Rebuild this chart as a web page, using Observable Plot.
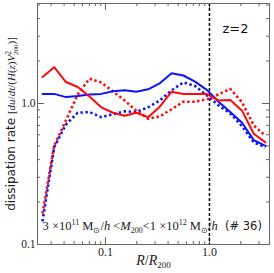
<!DOCTYPE html>
<html><head><meta charset="utf-8">
<script src="https://cdn.jsdelivr.net/npm/d3@7"></script>
<script src="https://cdn.jsdelivr.net/npm/@observablehq/plot@0.6"></script>
<style>body{margin:0;background:#fff}</style>
</head><body><div id="chart"></div>
<script>
// ---- data ----
const radius     = [0.0248,0.0321,0.0417,0.0540,0.0702,0.0910,0.118,0.153,0.198,0.257,0.333,0.432,0.561,0.727,0.944,1.223,1.585,2.057,2.667,3.455];
const redSolid   = [1.54,1.81,1.42,1.31,1.12,0.94,0.86,0.82,0.86,0.80,0.95,1.21,1.17,1.17,1.17,1.05,1.06,0.89,0.61,0.53];
const blueSolid  = [1.17,1.17,1.11,1.13,1.16,1.17,1.22,1.24,1.21,1.26,1.39,1.64,1.58,1.43,1.25,1.03,0.87,0.73,0.55,0.50];
const redDotted  = [0.166,0.50,0.76,1.16,1.50,1.41,1.22,1.05,0.89,0.78,0.81,0.91,1.03,1.03,1.07,1.16,1.27,1.02,0.70,0.59];
const blueDotted = [0.146,0.49,0.71,0.86,0.87,0.80,0.84,0.88,0.87,0.94,1.05,1.24,1.41,1.33,1.14,0.97,0.85,0.69,0.53,0.49];
const rVirial = [1.0];
const xMajor = [0.1, 1];
const xMinor = [0.03,0.04,0.05,0.06,0.07,0.08,0.09,0.2,0.3,0.4,0.5,0.6,0.7,0.8,0.9,2,3];
const yMajor = [0.1, 1];
const yMinor = [0.2,0.3,0.4,0.5,0.6,0.7,0.8,0.9,2,3,4,5];
const redshiftLabel = "z=2";

const W = 274, H = 273, mL = 37, mR = 5, mT = 3, mB = 29;
const fw = W - mL - mR, fh = H - mT - mB;

const series = [
  {values: blueDotted, stroke: "#0a14ff", dash: "2.4,2.6", sw: 2.6},
  {values: redDotted,  stroke: "#ff0a0a", dash: "2.4,2.6", sw: 2.6},
  {values: blueSolid,  stroke: "#0a14ff", dash: null, sw: 2},
  {values: redSolid,   stroke: "#ff0a0a", dash: null, sw: 2}
];

const tickColor = "#666";
const SERIF = "Liberation Serif, serif";
const SANS = "DejaVu Sans, sans-serif";

const marks = [];
// ticks inside the frame on all four sides
const maj = 7, mnr = 3;
for (const [vals, len] of [[xMajor, maj], [xMinor, mnr]]) {
  marks.push(Plot.tickX(vals, {x: d => d, stroke: tickColor, insetTop: fh - len}));
  marks.push(Plot.tickX(vals, {x: d => d, stroke: tickColor, insetBottom: fh - len}));
}
for (const [vals, len] of [[yMajor, maj], [yMinor, mnr]]) {
  marks.push(Plot.tickY(vals, {y: d => d, stroke: tickColor, insetRight: fw - len}));
  marks.push(Plot.tickY(vals, {y: d => d, stroke: tickColor, insetLeft: fw - len}));
}
// dashed vertical line at R200
marks.push(Plot.ruleX(rVirial, {x: d => d, stroke: "#000", strokeWidth: 1.5, strokeDasharray: "3,2"}));
// data lines
for (const s of series) {
  marks.push(Plot.line(radius.map((r, i) => ({r, v: s.values[i]})), {
    x: "r", y: "v", stroke: s.stroke, strokeWidth: s.sw,
    strokeDasharray: s.dash, strokeLinejoin: "round", strokeLinecap: s.dash ? "butt" : "round"
  }));
}
marks.push(Plot.frame({stroke: tickColor}));
// axes (labels only)
marks.push(Plot.axisX(xMajor, {tickSize: 0, tickPadding: 3, tickFormat: d3.format(".1f"), label: null, fontSize: 12, fontFamily: SERIF, fill: "#222"}));
marks.push(Plot.axisY(yMajor, {tickSize: 0, tickPadding: 2, tickFormat: d3.format(".1f"), label: null, fontSize: 11.5, fontFamily: SERIF, fill: "#222"}));
// texts
marks.push(Plot.text(["@YLABEL"], {frameAnchor: "left", rotate: -90, dx: -26, fontSize: 12, fontFamily: SANS, textAnchor: "middle"}));
marks.push(Plot.text(["@XLABEL"], {frameAnchor: "bottom", dy: 20, fontSize: 14, fontFamily: SERIF, textAnchor: "middle"}));
marks.push(Plot.text(["@ANNOT"], {frameAnchor: "bottom-left", dx: 5, dy: -15, fontSize: 12.5, fontFamily: SERIF, textAnchor: "start"}));
marks.push(Plot.text([redshiftLabel], {frameAnchor: "top-right", dx: -21, dy: 20, fontSize: 13, fontFamily: SANS, textAnchor: "end", fill: "#111"}));

const chart = Plot.plot({
  width: W, height: H,
  marginLeft: mL, marginRight: mR, marginTop: mT, marginBottom: mB,
  x: {type: "log", domain: [0.0222, 3.78]},
  y: {type: "log", domain: [0.1, 5.12]},
  style: {background: "#fff", color: "#222"},
  marks
});
document.getElementById("chart").appendChild(chart);

// rich text helper: segments with sup/sub/italic
function rich(key, segs) {
  const t = d3.select(chart).selectAll("text").filter(function() { return this.textContent === key; });
  t.each(function() {
    const el = d3.select(this);
    el.text(null);
    let off = 0;
    for (const s of segs) {
      const target = s.sup ? -s.sup : s.sub ? s.sub : 0;
      const sp = el.append("tspan").text(s.t);
      if (target !== off) sp.attr("dy", target - off);
      off = target;
      if (s.dx) sp.attr("dx", s.dx);
      if (s.i) sp.attr("font-style", "italic");
      if (s.size) sp.attr("font-size", s.size);
      if (s.f) sp.attr("font-family", s.f);
    }
  });
}
const ys = 11;
rich("@YLABEL", [
  {t: "dissipation rate "},
  {t: "[", f: SERIF, size: ys},
  {t: "du", f: SERIF, i: true, size: ys}, {t: "/", f: SERIF, size: ys}, {t: "dt", f: SERIF, i: true, size: ys},
  {t: "/(", f: SERIF, size: ys}, {t: "H", f: SERIF, i: true, size: ys}, {t: "(", f: SERIF, size: ys}, {t: "z", f: SERIF, i: true, size: ys},
  {t: ")", f: SERIF, size: ys}, {t: "V", f: SERIF, i: true, size: ys},
  {t: "2", f: SERIF, size: 7.5, sup: 4.5},
  {t: "200", f: SERIF, size: 7, sub: 3, dx: -4},
  {t: ")]", f: SERIF, size: ys}
]);
rich("@XLABEL", [
  {t: "R", i: true}, {t: "/"}, {t: "R", i: true}, {t: "200", size: 9, sub: 3}
]);
rich("@ANNOT", [
  {t: "3 ×10"}, {t: "11", size: 8, sup: 5}, {t: " M"}, {t: "⊙", size: 8, sub: 3}, {t: "/"}, {t: "h", i: true},
  {t: " <"}, {t: "M", i: true}, {t: "200", size: 8, sub: 3}, {t: "<1 ×10"}, {t: "12", size: 8, sup: 5},
  {t: " M"}, {t: "⊙", size: 8, sub: 3}, {t: "/"}, {t: "h", i: true},
  {t: "  (# 36)", f: SANS, size: 11.5}
]);
</script>
</body></html>
